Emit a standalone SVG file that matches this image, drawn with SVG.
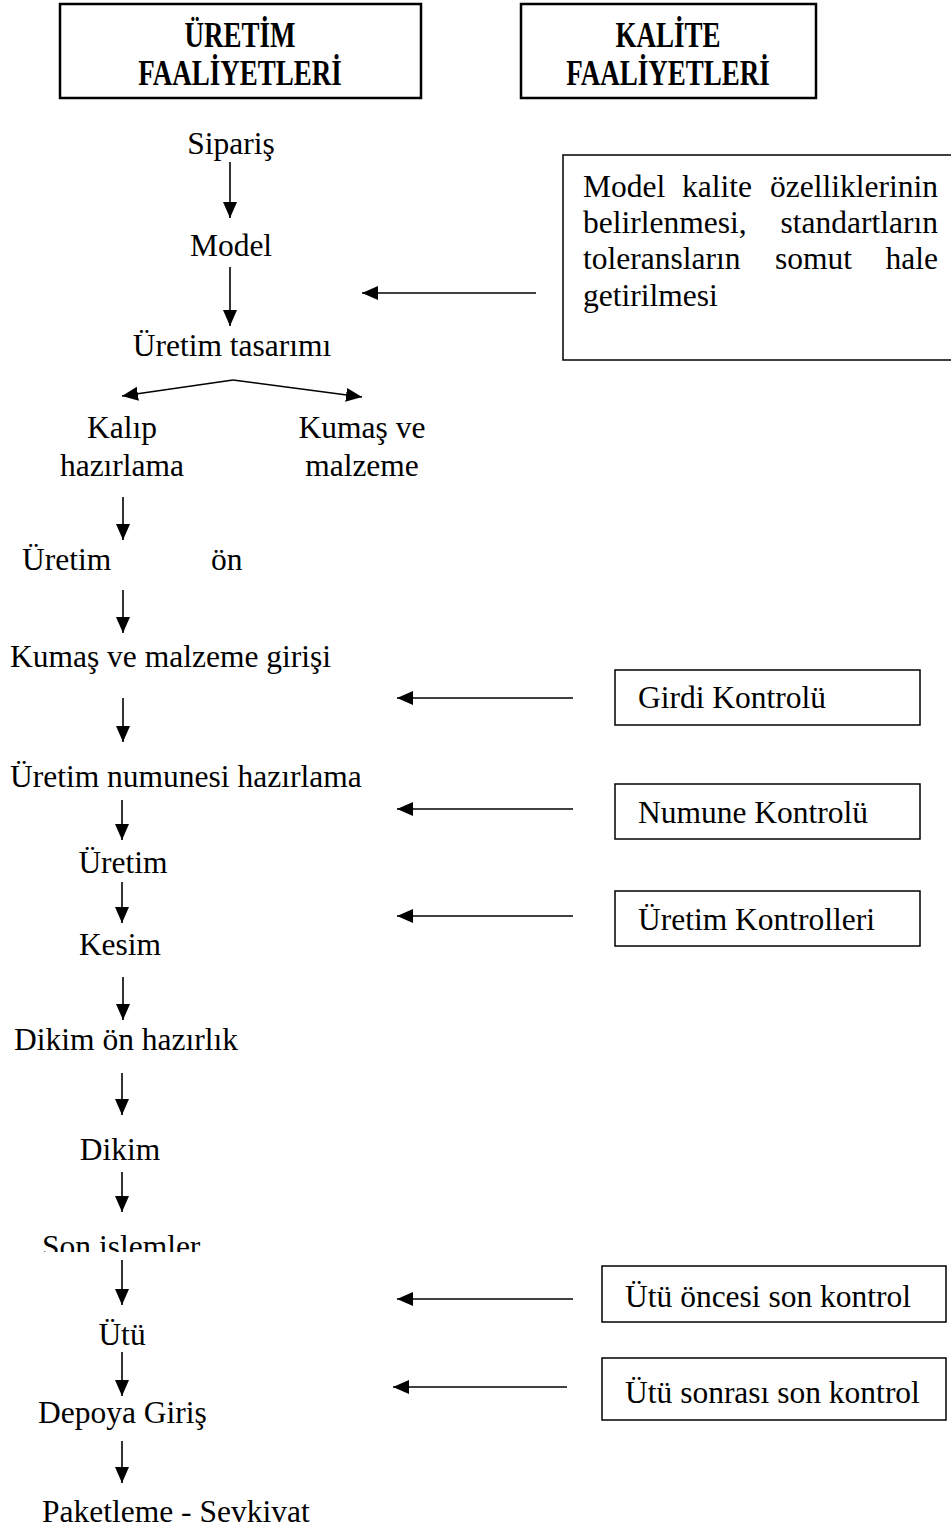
<svg xmlns="http://www.w3.org/2000/svg" width="951" height="1530" viewBox="0 0 951 1530">
<style>
.t{font-family:"Liberation Serif","Times New Roman",serif;font-size:31.5px;fill:#000}
.h{font-family:"Liberation Serif","Times New Roman",serif;font-size:36px;font-weight:bold;fill:#000;text-anchor:middle}
.m{text-anchor:middle}
.e{text-anchor:end}
.box{fill:#fff;stroke:#000;stroke-width:1.5}
.hbox{fill:#fff;stroke:#000;stroke-width:2.5}
.c line{stroke:#000;stroke-width:1.6;fill:none}
</style>
<defs>
<marker id="ah" markerUnits="userSpaceOnUse" markerWidth="16" markerHeight="14" refX="16" refY="7" orient="auto">
<path d="M0,0 L16,7 L0,14 z" fill="#000"/>
</marker>
<clipPath id="clipSon"><rect x="0" y="1200" width="400" height="52"/></clipPath>
</defs>
<rect width="951" height="1530" fill="#fff"/>

<g id="hdr-uretim">
<rect class="hbox" x="60" y="4" width="361" height="94"/>
<text class="h" transform="translate(240,47) scale(0.75,1)">ÜRETİM</text>
<text class="h" transform="translate(240,85) scale(0.75,1)">FAALİYETLERİ</text>
</g>
<g id="hdr-kalite">
<rect class="hbox" x="521" y="4" width="295" height="94"/>
<text class="h" transform="translate(668,47) scale(0.75,1)">KALİTE</text>
<text class="h" transform="translate(668,85) scale(0.75,1)">FAALİYETLERİ</text>
</g>

<g id="n-siparis"><text class="t m" x="231" y="154">Sipariş</text></g>
<g id="n-model"><text class="t m" x="231" y="256">Model</text></g>
<g id="n-uretim-tasarimi"><text class="t m" x="232" y="356">Üretim tasarımı</text></g>
<g id="n-kalip"><text class="t m" x="122" y="438">Kalıp</text><text class="t m" x="122" y="476">hazırlama</text></g>
<g id="n-kumas"><text class="t m" x="362" y="438">Kumaş ve</text><text class="t m" x="362" y="476">malzeme</text></g>
<g id="n-uretim-on"><text class="t" x="22" y="570">Üretim</text><text class="t" x="211" y="570">ön</text></g>
<g id="n-kumas-giris"><text class="t" x="10" y="667">Kumaş ve malzeme girişi</text></g>
<g id="n-numune"><text class="t" x="10" y="787">Üretim numunesi hazırlama</text></g>
<g id="n-uretim"><text class="t m" x="123" y="873">Üretim</text></g>
<g id="n-kesim"><text class="t m" x="120" y="955">Kesim</text></g>
<g id="n-dikim-on"><text class="t" x="14" y="1050">Dikim ön hazırlık</text></g>
<g id="n-dikim"><text class="t m" x="120" y="1160">Dikim</text></g>
<g id="n-son"><text class="t" x="42" y="1257" clip-path="url(#clipSon)">Son islemler</text></g>
<g id="n-utu"><text class="t m" x="122" y="1345">Ütü</text></g>
<g id="n-depo"><text class="t" x="38" y="1423">Depoya Giriş</text></g>
<g id="n-paket"><text class="t" x="42" y="1522">Paketleme - Sevkivat</text></g>

<g id="q-model">
<rect class="box" x="563" y="155" width="392" height="205"/>
<text class="t" x="583" y="197">Model</text><text class="t" x="682" y="197">kalite</text><text class="t e" x="938" y="197">özelliklerinin</text>
<text class="t" x="583" y="233">belirlenmesi,</text><text class="t e" x="938" y="233">standartların</text>
<text class="t" x="583" y="269">toleransların</text><text class="t" x="775" y="269">somut</text><text class="t e" x="938" y="269">hale</text>
<text class="t" x="583" y="306">getirilmesi</text>
</g>
<g id="q-girdi"><rect class="box" x="615" y="670" width="305" height="55"/><text class="t" x="638" y="708">Girdi Kontrolü</text></g>
<g id="q-numune"><rect class="box" x="615" y="784" width="305" height="55"/><text class="t" x="638" y="823">Numune Kontrolü</text></g>
<g id="q-uretim"><rect class="box" x="615" y="891" width="305" height="55"/><text class="t" x="638" y="930">Üretim Kontrolleri</text></g>
<g id="q-utu-once"><rect class="box" x="602" y="1266" width="344" height="56"/><text class="t" x="625" y="1307">Ütü öncesi son kontrol</text></g>
<g id="q-utu-sonra"><rect class="box" x="602" y="1358" width="344" height="62"/><text class="t" x="625" y="1403">Ütü sonrası son kontrol</text></g>

<g id="connectors" class="c">
<line x1="230" y1="162" x2="230" y2="218" marker-end="url(#ah)"/>
<line x1="230" y1="267" x2="230" y2="326" marker-end="url(#ah)"/>
<line x1="233" y1="380" x2="122" y2="396" marker-end="url(#ah)"/>
<line x1="233" y1="380" x2="362" y2="397" marker-end="url(#ah)"/>
<line x1="123" y1="497" x2="123" y2="540" marker-end="url(#ah)"/>
<line x1="123" y1="590" x2="123" y2="633" marker-end="url(#ah)"/>
<line x1="123" y1="698" x2="123" y2="742" marker-end="url(#ah)"/>
<line x1="122" y1="800" x2="122" y2="840" marker-end="url(#ah)"/>
<line x1="122" y1="882" x2="122" y2="923" marker-end="url(#ah)"/>
<line x1="123" y1="977" x2="123" y2="1020" marker-end="url(#ah)"/>
<line x1="122" y1="1073" x2="122" y2="1115" marker-end="url(#ah)"/>
<line x1="122" y1="1172" x2="122" y2="1212" marker-end="url(#ah)"/>
<line x1="122" y1="1260" x2="122" y2="1305" marker-end="url(#ah)"/>
<line x1="122" y1="1352" x2="122" y2="1396" marker-end="url(#ah)"/>
<line x1="122" y1="1441" x2="122" y2="1483" marker-end="url(#ah)"/>
<line x1="536" y1="293" x2="362" y2="293" marker-end="url(#ah)"/>
<line x1="573" y1="698" x2="397" y2="698" marker-end="url(#ah)"/>
<line x1="573" y1="809" x2="397" y2="809" marker-end="url(#ah)"/>
<line x1="573" y1="916" x2="397" y2="916" marker-end="url(#ah)"/>
<line x1="573" y1="1299" x2="397" y2="1299" marker-end="url(#ah)"/>
<line x1="567" y1="1387" x2="393" y2="1387" marker-end="url(#ah)"/>
</g>
</svg>
